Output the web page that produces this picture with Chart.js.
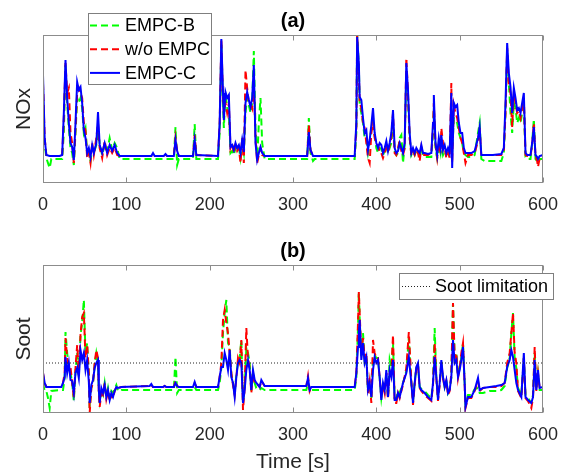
<!DOCTYPE html>
<html>
<head>
<meta charset="utf-8">
<script src="https://cdn.jsdelivr.net/npm/chart.js@4.4.1/dist/chart.umd.min.js"></script>
<style>
  body { margin: 0; background: #fff; }
  #wrap { position: relative; width: 566px; height: 473px; }
  canvas { position: absolute; left: 0; }
</style>
</head>
<body>
<div id="wrap">
  <canvas id="noxChart" width="566" height="235" style="top:0"></canvas>
  <canvas id="sootChart" width="566" height="238" style="top:235px"></canvas>
</div>
<script>
// ---- (a) NOx, normalised units ----
var timeA = [
  0, 2, 4, 8, 10, 20, 23, 25, 27, 29,
  31, 33, 35, 37, 39, 41, 43, 45, 47, 49,
  51, 53, 55, 57, 59, 61, 64, 66, 68, 71,
  74, 77, 80, 83, 86, 89, 92, 130, 132, 134,
  145, 147, 149, 157, 159, 161, 163, 180, 182, 184,
  210, 212, 214, 216, 217, 219, 221, 223, 225, 227,
  229, 231, 233, 235, 237, 239, 241, 243, 245, 247,
  249, 251, 253, 255, 257, 259, 261, 263, 266, 317,
  319, 321, 324, 326, 374, 376, 377, 379, 380, 382,
  384, 386, 388, 390, 392, 394, 396, 398, 400, 402,
  404, 406, 408, 410, 412, 414, 416, 418, 420, 422,
  424, 426, 428, 430, 432, 434, 436, 438, 440, 442,
  444, 446, 448, 450, 452, 454, 456, 458, 462, 466,
  468, 469, 471, 473, 475, 477, 478, 480, 482, 484,
  486, 488, 490, 491, 493, 495, 497, 499, 501, 503,
  505, 507, 510, 514, 518, 522, 524, 526, 530, 540,
  550, 553, 555, 557, 559, 561, 563, 565, 567, 569,
  571, 573, 575, 577, 579, 581, 585, 587, 589, 591,
  593, 594, 596, 600
];
var noxC = [
  108, 45, 28, 27, 27, 27, 28, 70, 123, 85,
  60, 40, 36, 23, 60, 101, 93, 96, 80, 53,
  45, 30, 35, 26, 38, 30, 40, 71, 38, 30,
  40, 30, 38, 32, 38, 30, 27, 27, 30, 27,
  27, 29, 27, 27, 43, 32, 27, 27, 43, 28,
  27, 60, 144, 90, 63, 91, 85, 88, 36, 38,
  33, 40, 35, 38, 30, 43, 31, 80, 91, 83,
  76, 85, 118, 40, 23, 30, 36, 30, 27, 27,
  51, 33, 27, 27, 27, 60, 146, 120, 86, 83,
  65, 50, 53, 33, 43, 58, 75, 50, 40, 35,
  40, 38, 30, 35, 42, 32, 40, 50, 73, 35,
  30, 32, 40, 35, 30, 40, 120, 93, 50, 30,
  35, 30, 35, 32, 30, 38, 30, 30, 29, 30,
  60, 88, 40, 28, 45, 35, 48, 33, 38, 30,
  35, 30, 90, 15, 80, 76, 78, 60, 50, 50,
  35, 30, 30, 30, 32, 45, 56, 28, 28, 28,
  29, 35, 80, 140, 110, 96, 70, 95, 85, 73,
  75, 70, 80, 90, 30, 28, 28, 40, 56, 28,
  26, 24, 27, 28
];
var noxWo = [
  100, 45, 28, 27, 27, 27, 28, 65, 120, 90,
  95, 50, 40, 20, 55, 90, 95, 90, 85, 60,
  52, 25, 30, 20, 40, 28, 45, 60, 35, 25,
  42, 28, 35, 30, 35, 28, 27, 27, 29, 27,
  27, 28, 27, 27, 45, 32, 27, 27, 48, 28,
  27, 60, 144, 85, 70, 80, 70, 80, 35, 40,
  30, 38, 32, 35, 20, 45, 20, 113, 95, 80,
  80, 75, 100, 45, 20, 28, 35, 28, 27, 27,
  58, 33, 27, 27, 27, 55, 148, 110, 80, 75,
  60, 55, 40, 25, 20, 50, 60, 45, 40, 38,
  30, 30, 25, 30, 40, 30, 38, 45, 70, 30,
  28, 35, 42, 32, 28, 35, 125, 90, 45, 28,
  32, 28, 33, 30, 22, 36, 28, 28, 28, 30,
  55, 80, 38, 25, 40, 30, 55, 40, 35, 25,
  30, 25, 100, 20, 78, 70, 65, 55, 45, 40,
  30, 20, 28, 28, 30, 42, 55, 27, 28, 28,
  28, 32, 70, 135, 100, 90, 56, 90, 80, 70,
  72, 65, 75, 85, 28, 27, 27, 38, 60, 27,
  22, 16, 25, 27
];
var noxB = [
  56, 40, 25, 15, 24, 24, 24, 50, 118, 80,
  55, 35, 30, 18, 50, 85, 80, 85, 75, 50,
  55, 30, 28, 22, 35, 30, 38, 50, 40, 28,
  38, 32, 45, 33, 40, 35, 24, 24, 24, 24,
  24, 24, 24, 24, 56, 18, 24, 24, 59, 24,
  24, 50, 140, 80, 55, 90, 75, 70, 30, 32,
  28, 35, 33, 36, 25, 40, 30, 70, 85, 78,
  70, 80, 132, 55, 22, 60, 85, 40, 24, 24,
  65, 30, 22, 24, 24, 50, 148, 118, 80, 70,
  60, 45, 45, 30, 40, 55, 65, 48, 35, 30,
  35, 34, 28, 32, 38, 30, 35, 40, 60, 32,
  28, 30, 45, 48, 20, 38, 110, 85, 45, 28,
  32, 28, 33, 30, 28, 35, 28, 26, 26, 26,
  50, 75, 35, 25, 38, 30, 40, 28, 32, 28,
  30, 28, 60, 30, 65, 63, 60, 50, 45, 40,
  30, 28, 26, 26, 28, 50, 60, 24, 22, 22,
  22, 30, 70, 130, 100, 70, 50, 80, 75, 60,
  65, 60, 70, 80, 26, 24, 24, 40, 64, 24,
  22, 20, 24, 24
];

// ---- (b) Soot, normalised units ----
var timeB = [
  0, 2, 4, 6, 8, 10, 22, 24, 26, 27,
  29, 31, 33, 35, 37, 39, 41, 43, 45, 47,
  49, 51, 53, 55, 56, 58, 60, 62, 64, 66,
  67, 68, 70, 72, 74, 76, 78, 80, 82, 84,
  86, 88, 90, 94, 128, 130, 132, 144, 146, 148,
  157, 159, 161, 163, 180, 182, 184, 210, 212, 214,
  216, 218, 220, 222, 224, 226, 228, 230, 232, 234,
  236, 238, 240, 242, 244, 246, 248, 250, 252, 254,
  256, 260, 262, 266, 316, 318, 320, 322, 374, 376,
  378, 379, 380, 382, 384, 386, 388, 390, 392, 394,
  396, 398, 400, 402, 404, 406, 408, 410, 412, 414,
  416, 418, 420, 422, 424, 426, 428, 430, 432, 436,
  439, 442, 444, 446, 448, 450, 452, 454, 458, 462,
  466, 468, 470, 472, 474, 476, 478, 480, 482, 484,
  486, 488, 490, 492, 494, 496, 498, 500, 502, 504,
  506, 507, 510, 514, 518, 522, 524, 528, 536, 544,
  550, 554, 557, 560, 562, 564, 566, 568, 570, 574,
  577, 579, 582, 586, 588, 590, 592, 594, 596, 600
];
var sootC = [
  40, 30, 26, 26, 26, 26, 26, 30, 36, 56,
  40, 50, 33, 32, 20, 40, 45, 35, 63, 53,
  60, 43, 53, 31, 10, 28, 33, 45, 50, 53,
  23, 10, 25, 20, 28, 16, 23, 13, 20, 16,
  22, 26, 25, 26, 27, 29, 26, 26, 27, 26,
  26, 30, 27, 26, 26, 31, 26, 26, 36, 46,
  46, 60, 53, 43, 63, 36, 30, 16, 36, 50,
  53, 50, 10, 23, 43, 53, 43, 23, 43, 33,
  30, 26, 33, 27, 27, 35, 23, 26, 26, 40,
  66, 80, 93, 53, 70, 50, 56, 23, 30, 16,
  43, 56, 50, 53, 36, 13, 30, 23, 43, 16,
  43, 36, 53, 13, 13, 20, 16, 23, 30, 40,
  56, 30, 10, 30, 46, 50, 26, 23, 20, 16,
  13, 30, 56, 36, 13, 30, 53, 36, 26, 33,
  20, 23, 36, 73, 50, 53, 36, 43, 53, 66,
  30, 6, 16, 16, 23, 35, 23, 25, 26, 27,
  28, 30, 46, 53, 63, 56, 43, 30, 23, 16,
  60, 16, 13, 10, 16, 53, 23, 43, 25, 26
];
var sootWo = [
  40, 30, 26, 26, 26, 26, 26, 30, 40, 75,
  55, 48, 46, 30, 15, 45, 68, 40, 78, 96,
  100, 55, 68, 40, 0, 25, 30, 50, 63, 55,
  20, 6, 20, 18, 30, 14, 22, 12, 18, 15,
  22, 26, 25, 26, 27, 28, 26, 26, 27, 26,
  26, 32, 27, 26, 26, 30, 26, 26, 36, 50,
  93, 103, 90, 80, 60, 40, 28, 18, 35, 55,
  50, 73, 3, 25, 85, 55, 45, 20, 40, 30,
  30, 26, 32, 27, 27, 37, 22, 26, 26, 40,
  90, 121, 100, 60, 75, 55, 60, 20, 32, 10,
  73, 60, 55, 55, 35, 15, 28, 20, 40, 14,
  40, 40, 78, 10, 10, 20, 15, 22, 28, 45,
  81, 32, 8, 28, 45, 48, 25, 22, 18, 15,
  12, 28, 70, 35, 12, 28, 50, 35, 25, 32,
  18, 22, 40, 110, 55, 60, 35, 45, 60, 70,
  28, 5, 15, 15, 22, 32, 22, 25, 26, 26,
  27, 30, 50, 60, 80, 100, 60, 50, 22, 15,
  55, 15, 12, 5, 15, 66, 22, 40, 25, 26
];
var sootB = [
  30, 22, 22, 15, 5, 22, 23, 23, 35, 81,
  60, 45, 40, 30, 12, 42, 60, 38, 78, 90,
  113, 60, 70, 38, 5, 25, 30, 48, 60, 50,
  22, 12, 22, 18, 30, 16, 25, 15, 22, 20,
  24, 28, 22, 23, 23, 23, 23, 23, 23, 23,
  23, 56, 20, 23, 23, 26, 23, 23, 30, 45,
  80, 100, 113, 70, 66, 38, 30, 20, 38, 52,
  55, 73, 10, 25, 65, 60, 50, 22, 40, 30,
  25, 23, 25, 23, 23, 30, 22, 23, 23, 35,
  85, 121, 95, 55, 80, 52, 55, 22, 30, 15,
  55, 58, 55, 55, 35, 15, 28, 22, 40, 16,
  53, 45, 70, 15, 15, 22, 20, 25, 30, 42,
  75, 30, 12, 30, 45, 48, 26, 24, 22, 18,
  15, 30, 85, 35, 15, 30, 52, 35, 26, 33,
  20, 24, 35, 110, 55, 60, 38, 45, 55, 70,
  30, 8, 18, 18, 24, 25, 20, 20, 22, 22,
  23, 27, 45, 55, 80, 100, 55, 45, 25, 18,
  55, 18, 15, 10, 18, 60, 25, 40, 23, 23
];
var limitTimes = [0, 600];
var sootLimit = 50;

var FONT = '"Liberation Sans", Arial, sans-serif';

function pts(times, vals) {
  return times.map(function(t, i) { return { x: t, y: vals[i] }; });
}

// box around the axes, inward ticks, panel caption and a MATLAB-like legend box
var framePlugin = {
  id: 'frame',
  afterDraw: function(chart, args, opts) {
    var ctx = chart.ctx;
    var area = chart.chartArea;
    var xs = chart.scales.x;
    var l = Math.round(area.left) + 0.5, r = Math.round(area.right) - 0.5;
    var t = Math.round(area.top) + 0.5, b = Math.round(area.bottom) - 0.5;
    ctx.save();
    ctx.strokeStyle = '#8c8c8c';
    ctx.lineWidth = 1;
    ctx.strokeRect(l, t, r - l, b - t);
    ctx.beginPath();
    xs.ticks.forEach(function(tick) {
      var px = Math.round(xs.getPixelForValue(tick.value)) + 0.5;
      ctx.moveTo(px, b); ctx.lineTo(px, b - 5);
      ctx.moveTo(px, t); ctx.lineTo(px, t + 5);
    });
    ctx.stroke();

    ctx.fillStyle = '#000';
    ctx.font = 'bold 20px ' + FONT;
    ctx.textAlign = 'center';
    ctx.textBaseline = 'alphabetic';
    ctx.fillText(opts.caption, (area.left + area.right) / 2, area.top - 8);

    var lg = opts.legend;
    ctx.fillStyle = '#fff';
    ctx.fillRect(lg.x, lg.y, lg.w, lg.h);
    ctx.strokeStyle = '#7f7f7f';
    ctx.strokeRect(lg.x + 0.5, lg.y + 0.5, lg.w, lg.h);
    ctx.font = '18px ' + FONT;
    ctx.textAlign = 'left';
    ctx.textBaseline = 'middle';
    lg.labels.forEach(function(label, i) {
      var ds = chart.data.datasets.find(function(d) { return d.label === label; });
      var y = lg.y + lg.first + i * lg.step;
      ctx.save();
      ctx.strokeStyle = ds.borderColor;
      ctx.lineWidth = ds.borderWidth;
      ctx.setLineDash(ds.borderDash || []);
      ctx.beginPath();
      ctx.moveTo(lg.x + lg.lineX0, y);
      ctx.lineTo(lg.x + lg.lineX1, y);
      ctx.stroke();
      ctx.restore();
      ctx.fillStyle = '#000';
      ctx.fillText(label, lg.x + lg.textX, y + 1);
    });
    ctx.restore();
  }
};

function seriesSets(times, b, wo, c) {
  var common = { pointRadius: 0, borderWidth: 2, tension: 0, fill: false };
  return [
    Object.assign({ label: 'EMPC-B', data: pts(times, b), borderColor: '#00ff00', borderDash: [7, 4], order: 3 }, common),
    Object.assign({ label: 'w/o EMPC', data: pts(times, wo), borderColor: '#ff0000', borderDash: [7, 4], order: 2 }, common),
    Object.assign({ label: 'EMPC-C', data: pts(times, c), borderColor: '#0000ff', order: 1 }, common)
  ];
}

function panelOptions(yTitle, xTitle, xHeight, topPad, caption, legend) {
  return {
    responsive: false,
    animation: false,
    layout: { padding: { left: 0, right: 23, top: topPad, bottom: 0 } },
    plugins: {
      legend: { display: false },
      tooltip: { enabled: false },
      frame: { caption: caption, legend: legend }
    },
    scales: {
      x: {
        type: 'linear', min: 0, max: 600,
        grid: { display: false },
        border: { display: false },
        ticks: { stepSize: 100, autoSkip: false, maxRotation: 0, padding: 3, color: '#262626', font: { size: 18, family: FONT } },
        title: { display: !!xTitle, text: xTitle, color: '#262626', padding: { top: 0, bottom: 0 }, font: { size: 21, family: FONT, lineHeight: 1 } },
        afterFit: function(scale) {
          scale.height = xHeight;
          scale.paddingLeft = 0;
          scale.paddingRight = 0;
        }
      },
      y: {
        min: 0, max: 148,
        grid: { display: false },
        border: { display: false },
        ticks: { display: false },
        title: { display: true, text: yTitle, color: '#262626', padding: { top: 12, bottom: 0 }, font: { size: 21, family: FONT } },
        afterFit: function(scale) { scale.width = 43; }
      }
    }
  };
}

new Chart(document.getElementById('noxChart').getContext('2d'), {
  type: 'line',
  data: { datasets: seriesSets(timeA, noxB, noxWo, noxC) },
  options: panelOptions('NOx', '', 52, 35, '(a)', {
    x: 88, y: 13, w: 123, h: 71, first: 12.5, step: 23.7,
    lineX0: 2, lineX1: 32, textX: 37,
    labels: ['EMPC-B', 'w/o EMPC', 'EMPC-C']
  }),
  plugins: [framePlugin]
});

var sootSets = seriesSets(timeB, sootB, sootWo, sootC);
sootSets.push({
  label: 'Soot limitation',
  data: pts(limitTimes, [sootLimit, sootLimit]),
  borderColor: '#222222', borderWidth: 1, borderDash: [1, 2],
  pointRadius: 0, fill: false, order: 0
});

new Chart(document.getElementById('sootChart').getContext('2d'), {
  type: 'line',
  data: { datasets: sootSets },
  options: panelOptions('Soot', 'Time [s]', 60, 30, '(b)', {
    x: 399, y: 38, w: 154, h: 26, first: 13.5, step: 0,
    lineX0: 3, lineX1: 31, textX: 36,
    labels: ['Soot limitation']
  }),
  plugins: [framePlugin]
});
</script>
</body>
</html>
